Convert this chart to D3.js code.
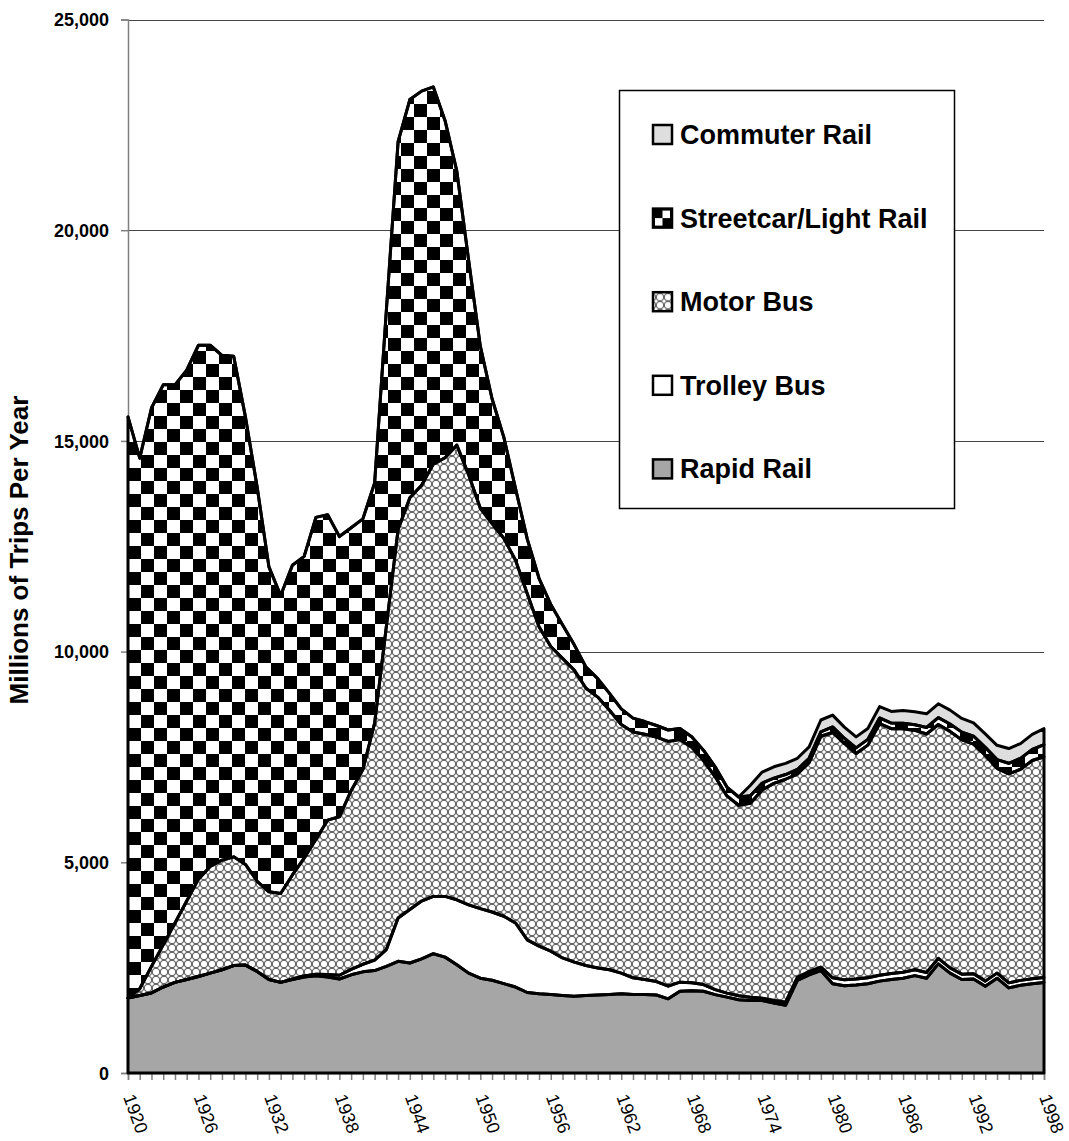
<!DOCTYPE html>
<html>
<head>
<meta charset="utf-8">
<script src="https://cdn.jsdelivr.net/npm/d3@7"></script>
<style>
  body { margin: 0; background: #fff; }
  text { font-family: "Liberation Sans", Arial, sans-serif; font-weight: bold; fill: #000; }
</style>
</head>
<body>
<script>
// years on the category axis
const years = [
  1920, 1921, 1922, 1923, 1924, 1925, 1926, 1927, 1928, 1929,
  1930, 1931, 1932, 1933, 1934, 1935, 1936, 1937, 1938, 1939,
  1940, 1941, 1942, 1943, 1944, 1945, 1946, 1947, 1948, 1949,
  1950, 1951, 1952, 1953, 1954, 1955, 1956, 1957, 1958, 1959,
  1960, 1961, 1962, 1963, 1964, 1965, 1966, 1967, 1968, 1969,
  1970, 1971, 1972, 1973, 1974, 1975, 1976, 1977, 1978, 1979,
  1980, 1981, 1982, 1983, 1984, 1985, 1986, 1987, 1988, 1989,
  1990, 1991, 1992, 1993, 1994, 1995, 1996, 1997, 1998
];
const labelYears = [1920, 1926, 1932, 1938, 1944, 1950, 1956, 1962, 1968, 1974, 1980, 1986, 1992, 1998];
const yTicks = [0, 5000, 10000, 15000, 20000, 25000];

// millions of trips per year, per mode
const rapidRail = [
  1780, 1840, 1900, 2040, 2150, 2220, 2290, 2370, 2450, 2550,
  2560, 2410, 2220, 2150, 2220, 2280, 2310, 2280, 2230, 2330,
  2400, 2430, 2530, 2650, 2610, 2710, 2830, 2750, 2570, 2370,
  2250, 2200, 2120, 2040, 1910, 1880, 1860, 1840, 1820, 1840,
  1850, 1860, 1880, 1860, 1860, 1850, 1760, 1940, 1950, 1940,
  1860, 1800, 1740, 1720, 1720, 1660, 1610, 2200, 2330, 2430,
  2120, 2070, 2090, 2120, 2180, 2220, 2250, 2310, 2250, 2590,
  2370, 2220, 2230, 2060, 2250, 2020, 2080, 2120, 2150
];
const trolleyBus = [
  0, 0, 0, 0, 0, 0, 0, 0, 0, 0,
  0, 0, 0, 0, 10, 20, 35, 60, 90, 130,
  180, 250, 400, 1030, 1270, 1370, 1360, 1440, 1540, 1620,
  1650, 1620, 1600, 1520, 1250, 1130, 1030, 890, 810, 710,
  640, 590, 490, 400, 360, 320, 300, 215, 190, 160,
  120, 95, 95, 80, 56, 63, 71, 70, 75, 80,
  140, 140, 140, 140, 140, 142, 140, 140, 135, 130,
  126, 125, 125, 120, 120, 119, 118, 115, 115
];
const motorBus = [
  0, 160, 630, 1000, 1410, 1860, 2310, 2530, 2600, 2580,
  2390, 2140, 2080, 2110, 2470, 2800, 3200, 3660, 3760, 4240,
  4620, 5620, 7670, 9220, 9770, 9870, 10260, 10410, 10790, 10210,
  9500, 9220, 8970, 8610, 8210, 7580, 7230, 7110, 6930, 6580,
  6430, 6160, 5900, 5830, 5820, 5800, 5810, 5760, 5590, 5320,
  5050, 4680, 4520, 4600, 4940, 5150, 5290, 4830, 4960, 5480,
  5820, 5610, 5350, 5520, 5970, 5810, 5780, 5680, 5660, 5550,
  5610, 5560, 5450, 5360, 4860, 4960, 5010, 5180, 5240
];
const streetcar = [
  13790, 12590, 13250, 13290, 12770, 12600, 12670, 12370, 11980, 11880,
  10620, 9350, 7710, 7070, 7350, 7160, 7640, 7250, 6650, 6240,
  5950, 5700, 7500, 9200, 9450, 9350, 8950, 8000, 6500, 5100,
  3850, 2960, 2400, 1700, 1300, 1150, 1000, 800, 600, 500,
  440, 400, 370, 330, 300, 276, 270, 260, 250, 240,
  235, 210, 195, 180, 165, 124, 112, 103, 105, 107,
  133, 123, 136, 137, 135, 132, 130, 133, 154, 162,
  175, 184, 188, 188, 206, 251, 259, 262, 286
];
const commuterRail = [
  0, 0, 0, 0, 0, 0, 0, 0, 0, 0,
  0, 0, 0, 0, 0, 0, 0, 0, 0, 0,
  0, 0, 0, 0, 0, 0, 0, 0, 0, 0,
  0, 0, 0, 0, 0, 0, 0, 0, 0, 0,
  0, 0, 0, 0, 0, 0, 0, 0, 0, 0,
  0, 0, 0, 250, 260, 270, 265, 265, 270, 280,
  280, 265, 260, 260, 270, 275, 305, 310, 325, 330,
  330, 325, 315, 320, 340, 350, 350, 360, 380
];

// stacking order, bottom first
const keys = ["rapid", "trolley", "motor", "streetcar", "commuter"];
const fills = {
  rapid: "#a6a6a6",
  trolley: "#ffffff",
  motor: "url(#circles)",
  streetcar: "url(#checker)",
  commuter: "#dedede"
};
const legendItems = [
  { key: "commuter", label: "Commuter Rail" },
  { key: "streetcar", label: "Streetcar/Light Rail" },
  { key: "motor", label: "Motor Bus" },
  { key: "trolley", label: "Trolley Bus" },
  { key: "rapid", label: "Rapid Rail" }
];

let rows = years.map((yr, i) => ({
  year: yr,
  rapid: rapidRail[i],
  trolley: trolleyBus[i],
  motor: motorBus[i],
  streetcar: streetcar[i],
  commuter: commuterRail[i]
}));

let width = 1069;
let height = 1141;

let svg = d3.select("body").append("svg")
  .attr("width", width)
  .attr("height", height);

// Muster
let defs = svg.append("defs");

let checker = defs.append("pattern")
  .attr("id", "checker")
  .attr("patternUnits", "userSpaceOnUse")
  .attr("x", 128).attr("y", 0)
  .attr("width", 26).attr("height", 26);
checker.append("rect").attr("width", 26).attr("height", 26).attr("fill", "#fff");
checker.append("rect").attr("width", 13).attr("height", 13).attr("fill", "#000");
checker.append("rect").attr("x", 13).attr("y", 13).attr("width", 13).attr("height", 13).attr("fill", "#000");

let circles = defs.append("pattern")
  .attr("id", "circles")
  .attr("patternUnits", "userSpaceOnUse")
  .attr("width", 8).attr("height", 8);
circles.append("rect").attr("width", 8).attr("height", 8).attr("fill", "#fff");
circles.append("circle")
  .attr("cx", 4).attr("cy", 4).attr("r", 3.8)
  .attr("fill", "none").attr("stroke", "#000").attr("stroke-width", 0.7);

let x = d3.scaleLinear().domain([1920, 1998]).range([128, 1044]);
let y = d3.scaleLinear().domain([0, 25000]).range([1073, 19.5]);

// Gitterlinien
svg.append("g")
  .selectAll("line")
  .data(yTicks.filter(d => d > 0))
  .enter()
  .append("line")
  .attr("x1", 128).attr("x2", 1044)
  .attr("y1", d => Math.round(y(d)) + 0.5)
  .attr("y2", d => Math.round(y(d)) + 0.5)
  .style("stroke", "#444")
  .style("stroke-width", 1);

// Achsen
let yAxis = svg.append("g")
  .attr("transform", "translate(128,0)")
  .call(d3.axisLeft(y).tickValues(yTicks).tickSize(7).tickPadding(12).tickFormat(d3.format(",")));
yAxis.select(".domain").style("stroke", "#808080").style("stroke-width", 1.5);
yAxis.selectAll(".tick line").style("stroke", "#808080").style("stroke-width", 1.5);
yAxis.selectAll("text").style("font-size", "18px").attr("dy", "0.35em");

let xAxis = svg.append("g")
  .attr("transform", "translate(0,1073)")
  .call(d3.axisBottom(x).tickValues(years).tickSize(7).tickFormat(""));
xAxis.select(".domain").style("stroke", "#808080").style("stroke-width", 1.5);
xAxis.selectAll(".tick line").style("stroke", "#808080").style("stroke-width", 1.5);

svg.append("g")
  .selectAll("text")
  .data(labelYears)
  .enter()
  .append("text")
  .attr("transform", d => `translate(${x(d) - 5},1097) rotate(70)`)
  .style("font-size", "18px")
  .style("font-weight", "normal")
  .text(d => d);

// gestapelte Flächen
let stacked = d3.stack().keys(keys)(rows);

let area = d3.area()
  .x(d => x(d.data.year))
  .y0(d => y(d[0]))
  .y1(d => y(d[1]));

svg.append("g")
  .selectAll("path")
  .data(stacked)
  .enter()
  .append("path")
  .attr("d", area)
  .style("fill", d => fills[d.key])
  .style("stroke", "none");

svg.append("g")
  .selectAll("path")
  .data(stacked)
  .enter()
  .append("path")
  .attr("d", area)
  .style("fill", "none")
  .style("stroke", "#000")
  .style("stroke-width", 3)
  .style("stroke-linejoin", "round");

// Achsentitel
svg.append("text")
  .attr("transform", "translate(28,550) rotate(-90)")
  .attr("text-anchor", "middle")
  .style("font-size", "26px")
  .text("Millions of Trips Per Year");

// Legende
let legend = svg.append("g");
legend.append("rect")
  .attr("x", 619.5).attr("y", 90.5)
  .attr("width", 335).attr("height", 418)
  .style("fill", "#fff")
  .style("stroke", "#000")
  .style("stroke-width", 1.5);

let items = legend.selectAll("g.item")
  .data(legendItems)
  .enter()
  .append("g")
  .attr("class", "item")
  .attr("transform", (d, i) => `translate(0,${134 + i * 83.6})`);

items.each(function (d) {
  let g = d3.select(this);
  if (d.key === "streetcar") {
    g.append("rect").attr("x", 653).attr("y", -9).attr("width", 19).attr("height", 19).style("fill", "#000");
    g.append("rect").attr("x", 662.5).attr("y", -7).attr("width", 7.5).attr("height", 7.5).style("fill", "#fff");
    g.append("rect").attr("x", 655).attr("y", 0.5).attr("width", 7.5).attr("height", 7.5).style("fill", "#fff");
  } else {
    g.append("rect")
      .attr("x", 653).attr("y", -9)
      .attr("width", 19).attr("height", 19)
      .style("fill", fills[d.key]);
  }
});
items.append("rect")
  .attr("x", 653).attr("y", -9)
  .attr("width", 19).attr("height", 19)
  .style("fill", "none")
  .style("stroke", "#000")
  .style("stroke-width", 2.5);

items.append("text")
  .attr("x", 680)
  .attr("y", 10)
  .style("font-size", "27px")
  .text(d => d.label);
</script>
</body>
</html>
